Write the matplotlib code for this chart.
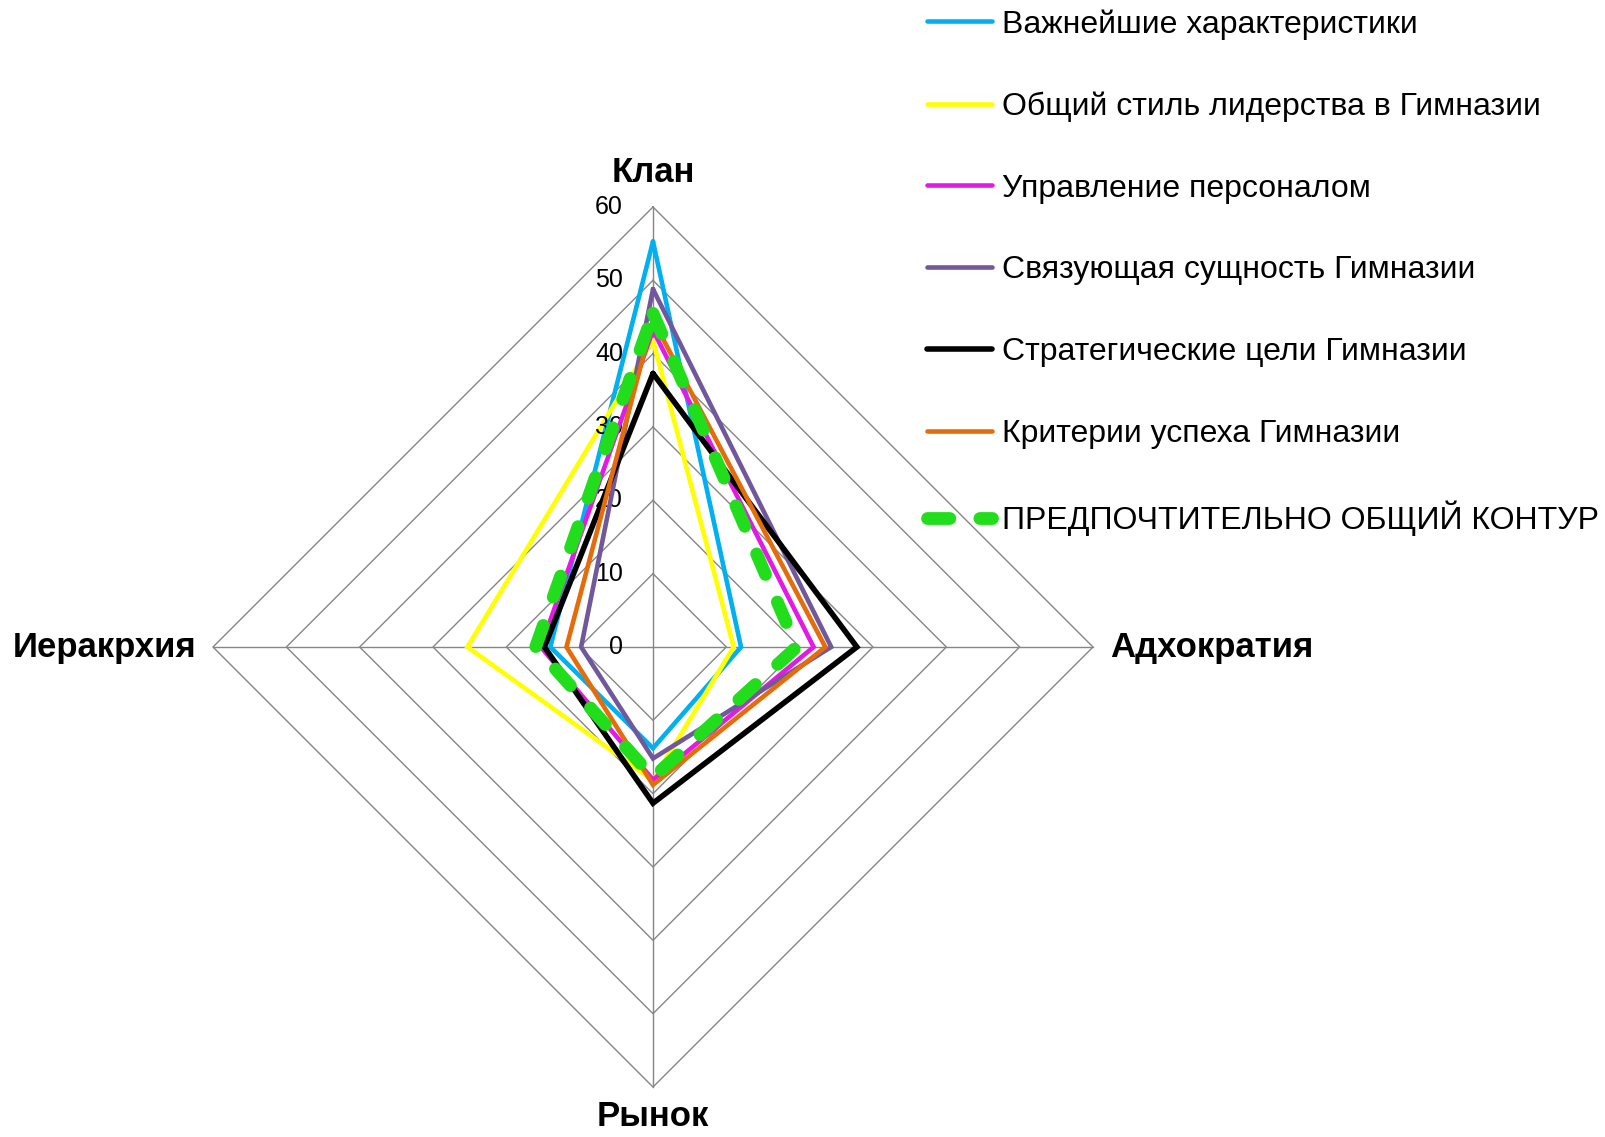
import numpy as np
import matplotlib
matplotlib.use("Agg")
import matplotlib.pyplot as plt

plt.rcParams['font.family'] = ['Liberation Sans', 'DejaVu Sans']

# оси диаграммы (по часовой стрелке, начиная сверху)
axes_names = ['Клан', 'Адхократия', 'Рынок', 'Иеракрхия']
ticks = [0, 10, 20, 30, 40, 50, 60]

# значения профилей
names = ['Важнейшие характеристики',
         'Общий стиль лидерства в Гимназии',
         'Управление персоналом',
         'Связующая сущность Гимназии',
         'Стратегические цели Гимназии',
         'Критерии успеха Гимназии',
         'ПРЕДПОЧТИТЕЛЬНО ОБЩИЙ КОНТУР']
vazhn = [55.3, 12.0, 13.8, 14.0]
stil = [41.8, 11.0, 18.2, 25.3]
upravl = [43.2, 21.9, 18.1, 15.3]
svyaz = [48.8, 24.3, 15.2, 9.8]
strat = [37.3, 27.8, 21.3, 14.8]
krit = [44.6, 23.5, 18.8, 11.8]
obsh = [45.5, 19.6, 17.8, 16.0]
series = [vazhn, stil, upravl, svyaz, strat, krit, obsh]
colors = ['#00B0F0', '#FFFF00', '#E31AE3', '#70589B', '#000000', '#E46C0A', '#22DD1C']
widths = [3.3, 3.3, 3.3, 3.3, 4.0, 3.3, 9.2]

# углы: Клан сверху, дальше по часовой
ang = np.pi / 2 - np.arange(4) * np.pi / 2


def to_xy(vals):
    v = np.append(vals, vals[0])
    a = np.append(ang, ang[0])
    return v * np.cos(a), v * np.sin(a)


W, H = 1605, 1137
cx, cy = 653, 647
k = 440 / 60.0  # пикселей на единицу

fig = plt.figure(figsize=(W / 100, H / 100), dpi=100)
ax = fig.add_axes([0, 0, 1, 1])
ax.set_xlim(-cx / k, (W - cx) / k)
ax.set_ylim(-(H - cy) / k, cy / k)
ax.axis('off')

# сетка-ромбы и лучи
for t in ticks[1:]:
    gx, gy = to_xy([t] * 4)
    ax.plot(gx, gy, color='#868686', lw=1.0, zorder=1)
for a in ang:
    ax.plot([0, 60 * np.cos(a)], [0, 60 * np.sin(a)], color='#868686', lw=1.0, zorder=1)

# подписи шкалы
for t in ticks:
    ax.text(-4.1, t, str(t), ha='right', va='center', fontsize=18, zorder=5)

# ряды
for i, (vals, c, lw) in enumerate(zip(series, colors, widths)):
    x, y = to_xy(vals)
    if i == len(series) - 1:
        ax.plot(x, y, color=c, lw=lw, linestyle=(0, (1.75, 2.35)),
                dash_capstyle='round', dash_joinstyle='round', label=names[i], zorder=3 + i)
    else:
        ax.plot(x, y, color=c, lw=lw, solid_joinstyle='miter',
                solid_capstyle='round', label=names[i], zorder=3 + i)

# названия осей
ax.text(0, 63.45, axes_names[0], ha='center', va='baseline', fontsize=25, fontweight='bold')
ax.text(62.4, -1.4, axes_names[1], ha='left', va='baseline', fontsize=25, fontweight='bold')
ax.text(0, -65.3, axes_names[2], ha='center', va='baseline', fontsize=25, fontweight='bold')
ax.text(-62.3, -1.4, axes_names[3], ha='right', va='baseline', fontsize=25, fontweight='bold')

fig.legend(loc='upper left', bbox_to_anchor=(927 / W, 1 - 9 / H), frameon=False,
           fontsize=23, borderpad=0, borderaxespad=0, labelspacing=1.62,
           handlelength=2.05, handletextpad=0.3)

fig.savefig('out.png', dpi=100)
